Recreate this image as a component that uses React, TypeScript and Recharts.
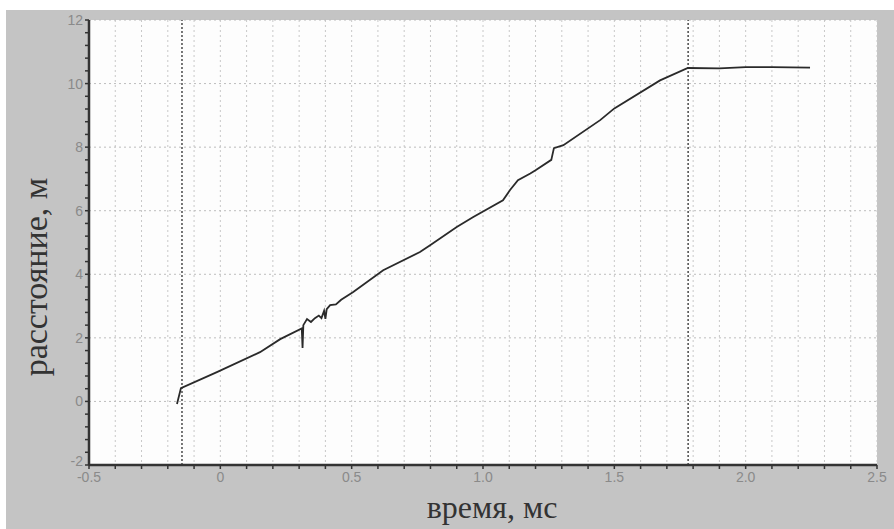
import React from "react";
import { LineChart, Line, XAxis, YAxis, CartesianGrid, ReferenceLine } from "recharts";

// time, ms
const timeMs = [
  -0.165, -0.15, -0.013, 0.151, 0.228, 0.31, 0.313, 0.316, 0.33, 0.345, 0.36, 0.375, 0.385,
  0.395, 0.4, 0.405, 0.418, 0.44, 0.46, 0.506, 0.62, 0.76, 0.8, 0.9, 0.963, 1.076, 1.103,
  1.133, 1.18, 1.2, 1.26, 1.27, 1.306, 1.446, 1.5, 1.674, 1.78, 1.9, 2.0, 2.1, 2.245,
];
// distance, m
const distanceM = [
  -0.08, 0.42, 0.92, 1.55, 1.96, 2.3, 1.68, 2.4, 2.59, 2.5, 2.62, 2.7, 2.62,
  2.85, 2.6, 2.9, 3.03, 3.05, 3.2, 3.44, 4.13, 4.7, 4.92, 5.49, 5.8, 6.33, 6.65,
  6.96, 7.17, 7.27, 7.6, 7.97, 8.06, 8.85, 9.22, 10.1, 10.49, 10.48, 10.52, 10.52, 10.5,
];

const xTicks = [
  -0.5, -0.4, -0.3, -0.2, -0.1, 0, 0.1, 0.2, 0.3, 0.4, 0.5, 0.6, 0.7, 0.8, 0.9, 1.0,
  1.1, 1.2, 1.3, 1.4, 1.5, 1.6, 1.7, 1.8, 1.9, 2.0, 2.1, 2.2, 2.3, 2.4, 2.5,
];
const xMajor = [-0.5, 0, 0.5, 1.0, 1.5, 2.0, 2.5];
const xMajorLabels = ["-0.5", "0", "0.5", "1.0", "1.5", "2.0", "2.5"];

const yTicks = [
  -2, -1.6, -1.2, -0.8, -0.4, 0, 0.4, 0.8, 1.2, 1.6, 2, 2.4, 2.8, 3.2, 3.6, 4, 4.4, 4.8,
  5.2, 5.6, 6, 6.4, 6.8, 7.2, 7.6, 8, 8.4, 8.8, 9.2, 9.6, 10, 10.4, 10.8, 11.2, 11.6, 12,
];
const yMajor = [-2, 0, 2, 4, 6, 8, 10, 12];
const yMajorLabels = ["-2", "0", "2", "4", "6", "8", "10", "12"];

const markers = [-0.146, 1.781];

const data = timeMs.map((t, i) => ({ t, d: distanceM[i] }));

const near = (a: number, b: number) => Math.abs(a - b) < 1e-6;
const fmtX = (v: number) => {
  const i = xMajor.findIndex((m) => near(m, v));
  return i >= 0 ? xMajorLabels[i] : "";
};
const fmtY = (v: number) => {
  const i = yMajor.findIndex((m) => near(m, v));
  return i >= 0 ? yMajorLabels[i] : "";
};

const tickFont = { fill: "#8a8a8a", fontSize: 14, fontFamily: "Liberation Sans, Arial, sans-serif" };

const YTick = (props: any) => {
  const { x, y, payload } = props;
  const label = fmtY(payload.value);
  if (!label) return null;
  const shift = near(payload.value, yMajor[0]) ? -4 : 0;
  return (
    <text x={x} y={y + shift} dy="0.355em" textAnchor="end" {...tickFont}>
      {label}
    </text>
  );
};

export default function App() {
  return (
    <div style={{ position: "relative", width: 894, height: 529, background: "#fff", overflow: "hidden" }}>
      <style>{`body{margin:0}`}</style>
      <div style={{ position: "absolute", left: 6, top: 10, width: 888, height: 519, background: "#c4c4c4" }} />
      <div style={{ position: "absolute", left: 0, top: 0 }}>
        <LineChart width={894} height={529} data={data} margin={{ top: 20, right: 17, bottom: 34, left: 29 }}>
          <CartesianGrid
            fill="#fdfdfd"
            horizontal={false}
            stroke="#c8c8c8"
            strokeDasharray="2 3"
          />
          {yMajor.map((v) => (
            <ReferenceLine key={"h" + v} y={v} stroke="#bdbdbd" strokeDasharray="2 3" />
          ))}
          {markers.map((v) => (
            <ReferenceLine key={"m" + v} x={v} stroke="#555" strokeWidth={1.6} strokeDasharray="2 2" />
          ))}
          <XAxis
            type="number"
            dataKey="t"
            domain={[-0.5, 2.5]}
            ticks={xTicks}
            interval={0}
            tickFormatter={fmtX}
            height={30}
            tick={tickFont}
            tickSize={4}
            tickMargin={3}
            axisLine={{ stroke: "#333", strokeWidth: 2.5 }}
            tickLine={{ stroke: "#333", strokeWidth: 1.5 }}
            allowDataOverflow
          />
          <YAxis
            type="number"
            domain={[-2, 12]}
            ticks={yTicks}
            interval={0}
            width={60}
            tick={<YTick />}
            tickSize={4}
            tickMargin={2}
            axisLine={{ stroke: "#333", strokeWidth: 2.5 }}
            tickLine={{ stroke: "#333", strokeWidth: 1.5 }}
            allowDataOverflow
          />
          <Line
            type="linear"
            dataKey="d"
            stroke="#2a2a2a"
            strokeWidth={1.8}
            dot={false}
            isAnimationActive={false}
          />
        </LineChart>
      </div>
      <div
        style={{
          position: "absolute",
          left: 492,
          top: 507,
          transform: "translate(-50%, -50%)",
          whiteSpace: "nowrap",
          fontFamily: "Liberation Serif, Times New Roman, serif",
          fontSize: 32,
          lineHeight: 1,
          color: "#333",
        }}
      >
        время, мс
      </div>
      <div
        style={{
          position: "absolute",
          left: 36,
          top: 277,
          transform: "translate(-50%, -50%) rotate(-90deg)",
          whiteSpace: "nowrap",
          fontFamily: "Liberation Serif, Times New Roman, serif",
          fontSize: 34,
          lineHeight: 1,
          color: "#333",
        }}
      >
        расстояние, м
      </div>
    </div>
  );
}
